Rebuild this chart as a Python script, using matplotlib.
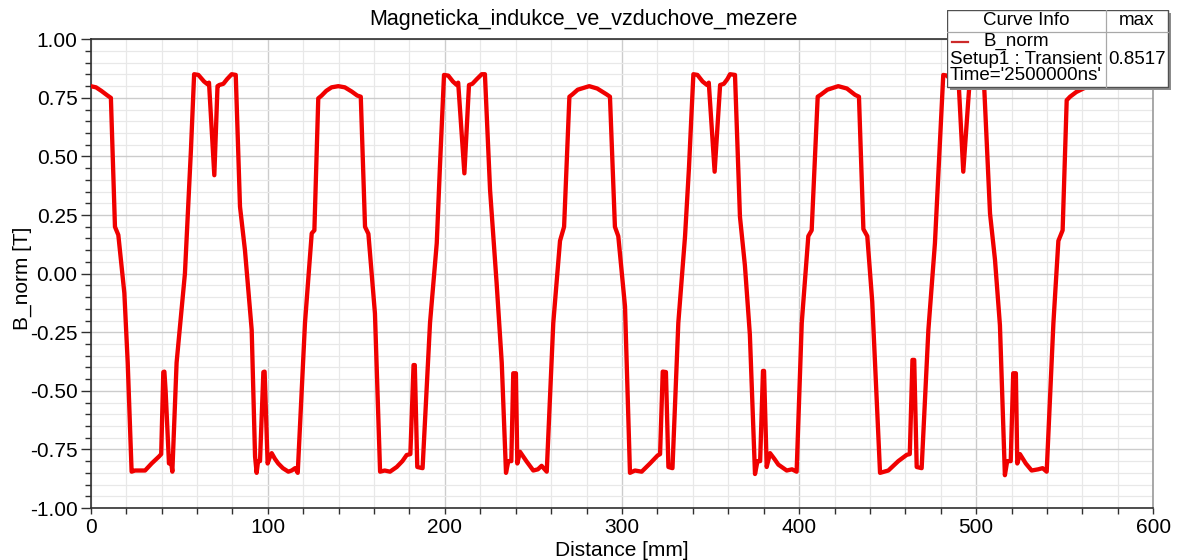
import matplotlib
matplotlib.use("Agg")
import matplotlib.pyplot as plt
from matplotlib.patches import Rectangle
from matplotlib.ticker import MultipleLocator, FormatStrFormatter

plt.rcParams['font.family'] = ['Liberation Sans', 'DejaVu Sans']

# ---------------- data ----------------
distance_mm = [
    0, 3, 6, 9.5, 10.5, 11.4, 13.7, 15.6, 19.0, 20.9, 23.1, 25, 30.7, 34.4, 38.6, 39.8,
    41.0, 41.6, 42.3, 44.2, 45.0, 46.1, 48.5, 53.2, 56.6, 58.4, 60.8, 64, 66.0, 66.8,
    69.8, 71.6, 72.6, 74.9, 77, 79.6, 81.9, 84.3, 87.1, 90.9, 92.8, 93.7, 94.5, 95.6,
    97.5, 98.2, 99.9, 100.8, 102.2, 104, 105.9, 108.5, 111.6, 113.5, 115.4, 116.9,
    121.0, 124.8, 126.3, 128.5, 130.4, 133, 136, 139.8, 143.5, 147.4, 150.5, 152.5,
    154.9, 156.8, 160.5, 163.4, 166, 169.0, 172.8, 176, 178.4, 180.5, 182.3, 183.0,
    184.4, 187.4, 191.6, 195.4, 197.2, 199.5, 201.9, 204.5, 206.7, 207.5, 211.0, 213.6,
    215.5, 218, 220.8, 222.6, 225.5, 229.2, 232.1, 234.5, 235.8, 237.5, 238.6, 240.1,
    240.9, 242.4, 246, 249.9, 252.5, 254.6, 257.5, 261.2, 265.0, 267.3, 270.3, 272, 275,
    281.5, 286, 291.3, 293.2, 296.0, 297.9, 301.7, 304.5, 307.3, 311.1, 315.8, 320.1,
    321.5, 323.0, 324.8, 326.2, 328.5, 331.8, 335.6, 337.8, 340.3, 342.6, 345.5, 348.0,
    349, 352.3, 355.4, 357.5, 359.5, 361.0, 363.8, 366.6, 369.4, 372.2, 375.1, 376.5,
    378, 379.6, 380.2, 381.7, 383.6, 386, 388.3, 393.0, 396, 398.6, 401.5, 405.2, 407.1,
    410.5, 412.5, 416, 422.1, 427, 431.6, 433.8, 436.3, 438.5, 441.3, 445.7, 450.4,
    456.0, 460.8, 462.5, 464.0, 465.0, 466.4, 469.2, 473.0, 476.7, 478.6, 481.4, 483.5,
    486.5, 489.5, 490.2, 492.7, 496.1, 498, 500.5, 502.5, 504.2, 507.8, 510.6, 513.4,
    516.2, 517.5, 519.5, 520.9, 522.4, 523.2, 524.7, 528, 531.3, 535, 537.5, 539.8,
    543.6, 546.4, 548.8, 551.1, 553, 556.5, 560.5, 564,
]
b_norm_T = [
    0.80, 0.795, 0.78, 0.76, 0.755, 0.75, 0.20, 0.165, -0.083, -0.38, -0.845, -0.84, -0.84,
    -0.81, -0.78, -0.77, -0.42, -0.418, -0.50, -0.81, -0.78, -0.845, -0.38, 0.0, 0.528,
    0.851, 0.848, 0.82, 0.808, 0.815, 0.42, 0.80, 0.805, 0.81, 0.83, 0.851, 0.848, 0.286,
    0.10, -0.24, -0.78, -0.85, -0.80, -0.80, -0.42, -0.418, -0.81, -0.79, -0.766, -0.79,
    -0.81, -0.83, -0.845, -0.84, -0.83, -0.85, -0.21, 0.172, 0.185, 0.748, 0.76, 0.78,
    0.795, 0.80, 0.795, 0.777, 0.76, 0.755, 0.20, 0.17, -0.17, -0.845, -0.84, -0.845,
    -0.825, -0.80, -0.774, -0.77, -0.39, -0.39, -0.825, -0.83, -0.21, 0.13, 0.457, 0.848,
    0.845, 0.82, 0.805, 0.815, 0.428, 0.805, 0.81, 0.83, 0.851, 0.851, 0.357, -0.04,
    -0.38, -0.85, -0.80, -0.80, -0.425, -0.425, -0.81, -0.76, -0.80, -0.84, -0.835,
    -0.82, -0.845, -0.21, 0.14, 0.20, 0.755, 0.765, 0.785, 0.80, 0.79, 0.765, 0.755,
    0.20, 0.16, -0.14, -0.85, -0.84, -0.845, -0.81, -0.776, -0.77, -0.418, -0.42,
    -0.825, -0.83, -0.21, 0.16, 0.45, 0.851, 0.848, 0.82, 0.805, 0.815, 0.435, 0.805,
    0.81, 0.83, 0.851, 0.848, 0.243, 0.035, -0.26, -0.855, -0.80, -0.80, -0.415, -0.415,
    -0.825, -0.766, -0.79, -0.815, -0.84, -0.835, -0.845, -0.21, 0.16, 0.185, 0.755,
    0.765, 0.785, 0.80, 0.79, 0.763, 0.755, 0.19, 0.16, -0.12, -0.85, -0.84, -0.80,
    -0.773, -0.77, -0.368, -0.368, -0.825, -0.83, -0.24, 0.13, 0.42, 0.848, 0.845, 0.82,
    0.805, 0.80, 0.435, 0.80, 0.81, 0.83, 0.851, 0.848, 0.257, 0.06, -0.22, -0.86, -0.80,
    -0.80, -0.425, -0.425, -0.81, -0.77, -0.81, -0.84, -0.835, -0.83, -0.845, -0.21,
    0.14, 0.185, 0.74, 0.755, 0.775, 0.79, 0.80,
]

title_text = "Magneticka_indukce_ve_vzduchove_mezere"
x_label = "Distance [mm]"
y_label = "B_norm [T]"
curve_name = "B_norm"
curve_setup = "Setup1 : Transient"
curve_time = "Time='2500000ns'"
curve_max = "0.8517"

# ---------------- figure ----------------
W, H = 1178, 560
fig = plt.figure(figsize=(W / 100, H / 100), dpi=100)
fig.patch.set_facecolor('white')

ax_l, ax_r, ax_t, ax_b = 90.7, 1153.3, 39.3, 508.0
aw, ah = ax_r - ax_l, ax_b - ax_t
ax = fig.add_axes([ax_l / W, 1 - ax_b / H, aw / W, ah / H])

ax.plot(distance_mm, b_norm_T, color='#f00000', lw=3.1, solid_joinstyle='round', zorder=3)

ax.set_xlim(0, 600)
ax.set_ylim(-1.0, 1.0)
ax.xaxis.set_major_locator(MultipleLocator(100))
ax.xaxis.set_minor_locator(MultipleLocator(20))
ax.yaxis.set_major_locator(MultipleLocator(0.25))
ax.yaxis.set_minor_locator(MultipleLocator(0.05))
ax.yaxis.set_major_formatter(FormatStrFormatter('%.2f'))

ax.grid(which='minor', color='#e8e8e8', lw=0.9, zorder=0)
ax.grid(which='major', color='#cccccc', lw=1.0, zorder=0)
ax.set_axisbelow(True)

ax.tick_params(axis='both', which='major', labelsize=15, colors='#303030',
               labelcolor='black', width=1.0)
ax.tick_params(axis='y', which='major', length=7, pad=2.5)
ax.tick_params(axis='y', which='minor', length=4, width=1.0, colors='#303030')
ax.tick_params(axis='x', which='major', length=4.5, pad=3)
ax.tick_params(axis='x', which='minor', length=4.5, width=1.0, colors='#303030')

for side, sp in ax.spines.items():
    sp.set_color('#303030')
    sp.set_linewidth(1.2)
ax.spines['right'].set_color('#9a9a9a')

ax.set_xlabel(x_label, fontsize=15)
ax.xaxis.set_label_coords(0.5, -(550.5 - ax_b) / ah)
ax.xaxis.label.set_va('center')
ax.set_ylabel(y_label, fontsize=15)
ax.yaxis.set_label_coords(-(ax_l - 22) / aw, 0.49)
ax.yaxis.label.set_va('center')

fig.text(583 / W, 1 - 20 / H, title_text, fontsize=15.5, ha='center', va='center')

# ---------------- "Curve Info" legend box ----------------
bx, by, bw, bh = 946.7, 10.0, 221.0, 77.3
sh = 3.0
lax = fig.add_axes([bx / W, 1 - (by + bh + sh) / H, (bw + sh) / W, (bh + sh) / H])
lax.set_xlim(0, bw + sh)
lax.set_ylim(bh + sh, 0)
lax.axis('off')
lax.add_patch(Rectangle((sh, sh), bw, bh, facecolor='#8c8c8c', edgecolor='none', zorder=1))
lax.add_patch(Rectangle((0, 0), bw, bh, facecolor='white', edgecolor='#505050', lw=1.0, zorder=2))
col = 159.0
hdr = 21.7
lax.plot([col, col], [0, bh], color='#a8a8a8', lw=0.9, zorder=3)
lax.plot([0, bw], [hdr, hdr], color='#a8a8a8', lw=0.9, zorder=3)
fs = 13.5
lax.text(col / 2, 10.7, "Curve Info", fontsize=fs, ha='center', va='center', zorder=4)
lax.text((col + bw) / 2, 10.7, "max", fontsize=fs, ha='center', va='center', zorder=4)
lax.plot([5, 21.6], [31.7, 31.7], color='#cc2a2a', lw=1.6, zorder=4)
lax.text(36.6, 31.2, curve_name, fontsize=fs, ha='left', va='center', zorder=4)
lax.text(3.3, 49.5, curve_setup, fontsize=fs, ha='left', va='center', zorder=4)
lax.text(3.3, 65.0, curve_time, fontsize=fs, ha='left', va='center', zorder=4)
lax.text(161.6, 49.5, curve_max, fontsize=fs, ha='left', va='center', zorder=4)

fig.savefig('out.png', dpi=100, facecolor='white')
